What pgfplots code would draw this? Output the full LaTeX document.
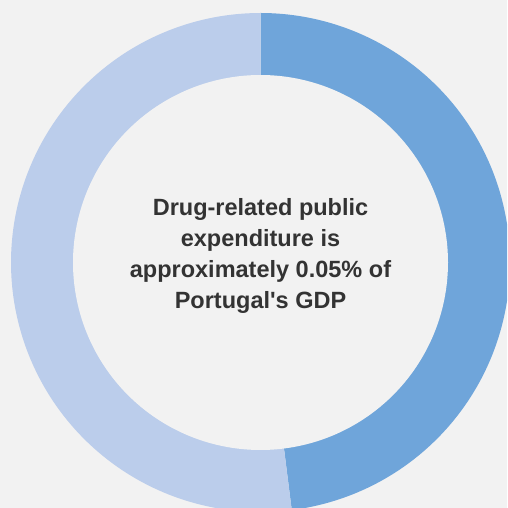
\documentclass[border=0pt]{standalone}
\usepackage{pgfplots}
\usepackage{pgfplotstable}
\pgfplotsset{compat=1.18}
\usepackage{fontspec}
\setmainfont{Liberation Sans}[Ligatures=TeXOff]
\definecolor{darkslice}{RGB}{111,165,218}
\definecolor{lightslice}{RGB}{187,205,235}
\definecolor{bgcol}{RGB}{242,242,242}
\definecolor{txtcol}{RGB}{51,51,51}
\pgfplotstableread{
label value
A 48
B 52
}\piedata
\def\cx{260.5}
\def\cy{245.5}
\def\R{249.5}
\def\r{187.5}
\begin{document}%
\begin{tikzpicture}
\pgfplotstablegetelem{0}{value}\of\piedata
\let\va\pgfplotsretval
\pgfmathsetmacro{\angA}{90-3.6*\va}
\pgfmathsetmacro{\angB}{90-360}
\begin{axis}[
  width=507pt, height=508pt, scale only axis,
  xmin=0, xmax=507, ymin=0, ymax=508,
  axis lines=none, ticks=none,
  clip=true,
  axis background/.style={fill=bgcol},
]
\addplot[fill=darkslice, draw=none, domain=90:\angA, samples=200]
  ({\cx+\R*cos(x)},{\cy+\R*sin(x)}) -- (axis cs:\cx,\cy) -- cycle;
\addplot[fill=lightslice, draw=none, domain=\angA:\angB, samples=200]
  ({\cx+\R*cos(x)},{\cy+\R*sin(x)}) -- (axis cs:\cx,\cy) -- cycle;
\addplot[fill=bgcol, draw=none, domain=0:360, samples=300]
  ({\cx+\r*cos(x)},{\cy+\r*sin(x)}) -- cycle;
\node[align=center, text=txtcol, font=\fontsize{23.5}{31}\selectfont\bfseries]
  at (axis cs:\cx,252) {Drug-related public\\expenditure is\\approximately 0.05\% of\\Portugal's GDP};
\end{axis}
\pgfresetboundingbox
\useasboundingbox (current axis.south west) rectangle (current axis.north east);
\end{tikzpicture}%
\end{document}
